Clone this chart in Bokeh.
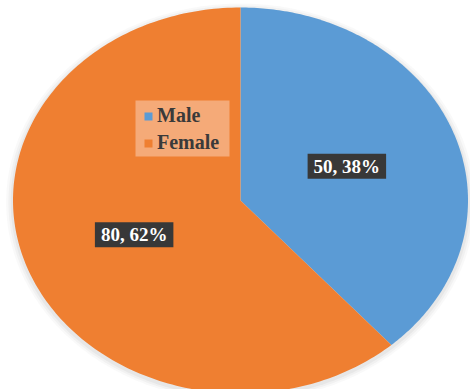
import numpy as np
from bokeh.plotting import figure
from bokeh.models import ColumnDataSource, Legend, LegendItem, Label, Range1d, BoxAnnotation
from bokeh.embed import file_html
from bokeh.resources import INLINE

categories = ["Male", "Female"]
values = [50, 80]
percents = ["38%", "62%"]
colors = ["#5B9BD5", "#EF7F31"]

W, H = 470, 389
CX, CY, RX, RY = 240.0, 200.0, 227.5, 193.0   # pie centre / radii in pixels


def sx(px):
    return (px - CX) / RX


def sy(py):
    return (CY - py) / RY


p = figure(width=W, height=H, output_backend="svg", toolbar_location=None,
           x_range=Range1d(sx(0), sx(W)), y_range=Range1d(sy(H), sy(0)),
           min_border=0)
p.axis.visible = False
p.grid.visible = False
p.outline_line_color = None
p.background_fill_color = "white"
p.border_fill_color = "white"

# soft shadow around the pie
t = np.linspace(0, 2 * np.pi, 400)
for k, a in [(1.03, 0.05), (1.02, 0.07), (1.01, 0.09)]:
    p.patch(k * np.sin(t), k * np.cos(t) - 0.01, fill_color="#888888", fill_alpha=a, line_color=None)

total = float(sum(values))
fracs = [v / total for v in values]
starts = np.cumsum([0] + fracs[:-1]) * 2 * np.pi
ends = np.cumsum(fracs) * 2 * np.pi

items = []
for cat, s, e, c in zip(categories, starts, ends, colors):
    th = np.linspace(s, e, 200)
    xs = np.concatenate([[0], np.sin(th), [0]])
    ys = np.concatenate([[0], np.cos(th), [0]])
    r = p.patch(xs, ys, fill_color=c, line_color=None)
    items.append(LegendItem(label=cat, renderers=[r]))

for v, pc, s, e in zip(values, percents, starts, ends):
    mid = (s + e) / 2
    lab = Label(x=0.5 * np.sin(mid), y=0.5 * np.cos(mid), text=f"{v}, {pc}",
                text_align="center", text_baseline="middle",
                text_color="white", text_font="Liberation Serif", text_font_style="bold",
                text_font_size="19px", background_fill_color="#383838",
                padding=(6, 2))
    p.add_layout(lab)

# legend background box
box = BoxAnnotation(left=sx(135), right=sx(229), top=sy(100), bottom=sy(156),
                    fill_color="#F5AA78", fill_alpha=1.0, line_color=None)
p.add_layout(box)

legend = Legend(items=items, location=(143, 235), orientation="vertical",
                background_fill_alpha=0.0,
                border_line_color=None, spacing=4, margin=0,
                label_text_font="Liberation Serif", label_text_font_style="bold",
                label_text_font_size="20px", label_text_color="#3A3A3A",
                label_height=17, glyph_width=10, glyph_height=10,
                label_standoff=4)
p.add_layout(legend, "center")

open("out.html", "w").write(file_html(p, INLINE))
